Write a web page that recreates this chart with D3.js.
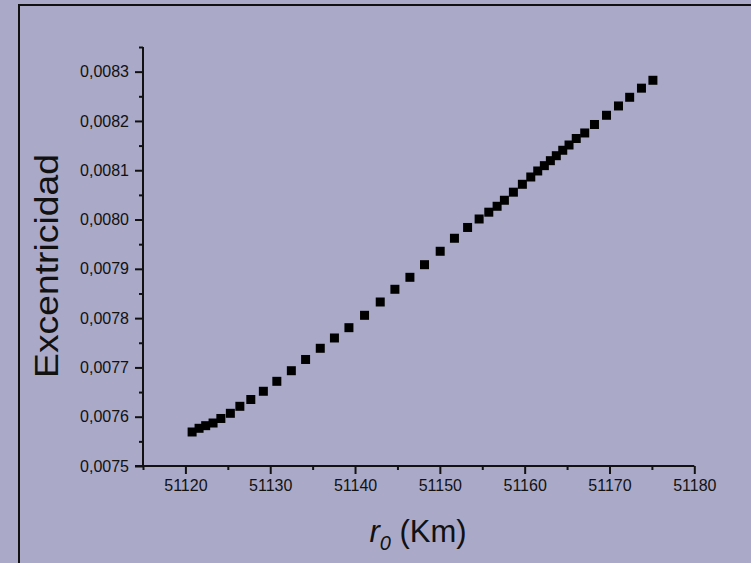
<!DOCTYPE html>
<html>
<head>
<meta charset="utf-8">
<script src="https://cdn.jsdelivr.net/npm/d3@7"></script>
<style>
  html, body { margin: 0; padding: 0; background: #aaaac8; }
  svg { display: block; }
</style>
</head>
<body>
<svg id="chart" width="751" height="563"></svg>
<script>
// Initial radius r0 (km)
const radius = [
  51120.79, 51121.61, 51122.39, 51123.26, 51124.18, 51125.30, 51126.42, 51127.71,
  51129.19, 51130.78, 51132.49, 51134.17, 51135.90, 51137.57, 51139.28, 51141.12,
  51142.97, 51144.70, 51146.47, 51148.19, 51150.04, 51151.72, 51153.27, 51154.63,
  51155.77, 51156.75, 51157.61, 51158.67, 51159.73, 51160.72, 51161.54, 51162.32,
  51163.03, 51163.73, 51164.49, 51165.23, 51166.08, 51167.08, 51168.23, 51169.65,
  51171.06, 51172.38, 51173.77, 51175.12
];
// Orbital eccentricity for each radius
const eccentricity = [
  0.0075690, 0.0075765, 0.0075818, 0.0075872, 0.0075964, 0.0076069, 0.0076211, 0.0076349,
  0.0076516, 0.0076718, 0.0076933, 0.0077161, 0.0077388, 0.0077597, 0.0077806, 0.0078057,
  0.0078327, 0.0078585, 0.0078828, 0.0079084, 0.0079356, 0.0079620, 0.0079839, 0.0080011,
  0.0080149, 0.0080269, 0.0080391, 0.0080555, 0.0080715, 0.0080863, 0.0080985, 0.0081093,
  0.0081194, 0.0081295, 0.0081405, 0.0081512, 0.0081644, 0.0081756, 0.0081928, 0.0082115,
  0.0082304, 0.0082480, 0.0082665, 0.0082825
];
const xTicks = [51120, 51130, 51140, 51150, 51160, 51170, 51180];
const xMinorTicks = [51115, 51125, 51135, 51145, 51155, 51165, 51175];
const yTicks = [0.0075, 0.0076, 0.0077, 0.0078, 0.0079, 0.0080, 0.0081, 0.0082, 0.0083];
const yMinorTicks = [0.00755, 0.00765, 0.00775, 0.00785, 0.00795, 0.00805, 0.00815, 0.00825, 0.00835];

const svg = d3.select("#chart");
const W = 751, H = 563;
const margin = { left: 143, top: 47, right: 751 - 694.3, bottom: 563 - 466 };
const font = "'Liberation Sans', Arial, sans-serif";

svg.append("rect").attr("x", 0).attr("y", 0).attr("width", W).attr("height", H)
  .attr("fill", "#aaaac8");
// frame
svg.append("rect").attr("x", 19).attr("y", 5).attr("width", W + 20).attr("height", H + 20)
  .attr("fill", "none").attr("stroke", "#111").attr("stroke-width", 2);

const x = d3.scaleLinear().domain([51115, 51180]).range([margin.left, W - margin.right]);
const y = d3.scaleLinear().domain([0.0075, 0.00835]).range([H - margin.bottom, margin.top]);

const comma = d => d3.format(".4f")(d).replace(".", ",");

// minor ticks
svg.append("g").attr("transform", `translate(0,${y(0.0075)})`)
  .call(d3.axisBottom(x).tickValues(xMinorTicks).tickSize(4).tickFormat(""))
  .call(g => g.select(".domain").remove());
svg.append("g").attr("transform", `translate(${x(51115)},0)`)
  .call(d3.axisLeft(y).tickValues(yMinorTicks).tickSize(4).tickFormat(""))
  .call(g => g.select(".domain").remove());

// major axes
const xAxis = svg.append("g").attr("transform", `translate(0,${y(0.0075)})`)
  .call(d3.axisBottom(x).tickValues(xTicks).tickSize(8).tickSizeOuter(0).tickPadding(6).tickFormat(d3.format("d")));
const yAxis = svg.append("g").attr("transform", `translate(${x(51115)},0)`)
  .call(d3.axisLeft(y).tickValues(yTicks).tickSize(8).tickSizeOuter(0).tickPadding(6).tickFormat(comma));

svg.selectAll(".tick line").attr("stroke", "#111").attr("stroke-width", 2);
[xAxis, yAxis].forEach(a => {
  a.select(".domain").attr("stroke", "#111").attr("stroke-width", 2);
  a.selectAll("text").attr("fill", "#111").style("font-family", font).style("font-size", "16px");
});
xAxis.select(".domain").attr("d", `M${x(51115) - 8},0H${x(51180)}`);
yAxis.select(".domain").attr("d", `M0,${y(0.0075)}V${y(0.00835)}`);

// data points
const pts = radius.map((r, i) => ({ r, e: eccentricity[i] }));
const s = 9;
svg.append("g").selectAll("rect").data(pts).join("rect")
  .attr("x", d => x(d.r) - s / 2).attr("y", d => y(d.e) - s / 2)
  .attr("width", s).attr("height", s).attr("fill", "#000");

// axis titles
svg.append("text")
  .attr("transform", `translate(58,266) rotate(-90)`)
  .attr("text-anchor", "middle")
  .attr("textLength", 224).attr("lengthAdjust", "spacingAndGlyphs")
  .style("font-family", font).style("font-size", "33px").attr("fill", "#111")
  .text("Excentricidad");

const xt = svg.append("text")
  .attr("x", 418).attr("y", 542)
  .attr("text-anchor", "middle")
  .style("font-family", font).style("font-size", "31px").attr("fill", "#111");
xt.append("tspan").style("font-style", "italic").text("r");
xt.append("tspan").attr("dy", 8).style("font-size", "20px").style("font-style", "italic").text("0");
xt.append("tspan").attr("dy", -8).text(" (Km)");
</script>
</body>
</html>
